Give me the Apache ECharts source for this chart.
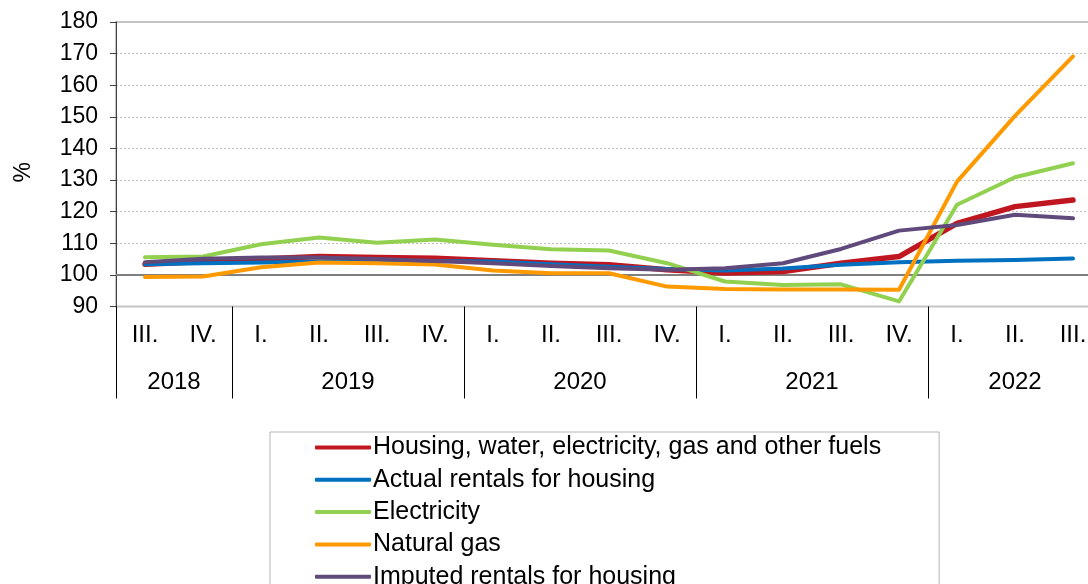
<!DOCTYPE html>
<html>
<head>
<meta charset="utf-8">
<script src="https://cdn.jsdelivr.net/npm/echarts@6/dist/echarts.min.js"></script>
<style>
  html, body { margin: 0; padding: 0; background: #fff; }
  #chart { width: 1088px; height: 584px; }
</style>
</head>
<body>
<div id="chart"></div>
<script>
// quarters along the axis, grouped by year
const years = ['2018', '2019', '2020', '2021', '2022']
const quartersPerYear = [2, 4, 4, 4, 3]
const quarters = ['III.', 'IV.',
  'I.', 'II.', 'III.', 'IV.',
  'I.', 'II.', 'III.', 'IV.',
  'I.', 'II.', 'III.', 'IV.',
  'I.', 'II.', 'III.']

const yTicks = [90, 100, 110, 120, 130, 140, 150, 160, 170, 180]

// index values, %
const housing = [103.4, 104.2, 105.0, 105.8, 105.5, 105.3, 104.5, 103.7, 103.2, 101.6, 100.6, 101.1, 103.7, 105.8, 116.3, 121.6, 123.7]
const actualRent = [103.4, 103.7, 103.9, 104.2, 104.4, 104.4, 104.2, 103.4, 102.6, 101.9, 101.4, 102.0, 103.2, 104.0, 104.5, 104.7, 105.2]
const electricity = [105.6, 105.8, 109.7, 111.8, 110.2, 111.2, 109.5, 108.1, 107.7, 103.7, 97.9, 96.8, 97.0, 91.6, 122.2, 130.9, 135.3]
const naturalGas = [99.3, 99.5, 102.4, 103.9, 103.7, 103.3, 101.4, 100.5, 100.5, 96.3, 95.5, 95.4, 95.4, 95.3, 129.5, 150.3, 169.1]
const imputedRent = [104.0, 105.1, 105.5, 105.5, 105.0, 104.4, 103.7, 102.8, 102.1, 101.6, 102.1, 103.7, 108.2, 114.0, 115.8, 119.0, 117.9]

const seriesNames = [
  'Housing, water, electricity, gas and other fuels',
  'Actual rentals for housing',
  'Electricity',
  'Natural gas',
  'Imputed rentals for housing'
]
const seriesData = [housing, actualRent, electricity, naturalGas, imputedRent]
const colors = ['#C0161F', '#0070C0', '#92D050', '#FF9900', '#604A7B']
const widths = [5.5, 4, 4, 4, 4]

// year separators and label centres on a 0..17 scale
const separators = [0]
const yearCentres = []
let pos = 0
quartersPerYear.forEach(n => {
  yearCentres.push(pos + n / 2)
  pos += n
  separators.push(pos)
})

const FONT = 'Liberation Sans, Arial, sans-serif'
const chart = echarts.init(document.getElementById('chart'), null, { renderer: 'canvas' })

chart.setOption({
  animation: false,
  grid: {
    left: 116, top: 22, width: 986, height: 284.5,
    containLabel: false,
    outerBoundsMode: 'none',
    show: true, borderColor: '#c6c6c6', borderWidth: 2
  },
  legend: {
    orient: 'vertical',
    left: 270, top: 432, height: 300,
    padding: [3, 58, 12, 45],
    borderColor: '#b5b5b5', borderWidth: 1,
    icon: 'roundRect',
    itemWidth: 56, itemHeight: 4,
    itemGap: 7.3,
    textStyle: { fontFamily: FONT, fontSize: 25, color: '#000', lineHeight: 25, padding: [0, 0, 0, -3] },
    data: seriesNames
  },
  xAxis: [{
    type: 'category',
    data: quarters,
    boundaryGap: true,
    axisLine: { show: false },
    axisTick: { show: false },
    axisLabel: { interval: 0, margin: 17, fontFamily: FONT, fontSize: 24, color: '#000' }
  }, {
    type: 'value',
    position: 'bottom',
    min: 0, max: quarters.length,
    axisLine: { show: false },
    splitLine: { show: false },
    axisTick: {
      show: true, inside: false, length: 92,
      customValues: separators,
      lineStyle: { color: '#000', width: 1 }
    },
    axisLabel: {
      margin: 64, fontFamily: FONT, fontSize: 24, color: '#000',
      customValues: yearCentres,
      formatter: v => {
        const i = yearCentres.indexOf(v)
        return i >= 0 ? years[i] : ''
      }
    }
  }],
  yAxis: {
    type: 'value',
    min: yTicks[0], max: yTicks[yTicks.length - 1], interval: 10,
    name: '%', nameLocation: 'middle', nameGap: 81, nameRotate: 90,
    nameTextStyle: { fontFamily: FONT, fontSize: 23, color: '#000', padding: [0, 16, 0, 0] },
    axisLine: { show: true, lineStyle: { color: '#404040', width: 1 } },
    axisTick: { show: true, length: 6, lineStyle: { color: '#404040' } },
    axisLabel: { margin: 18, fontFamily: FONT, fontSize: 23, color: '#000' },
    splitLine: { show: true, lineStyle: { color: '#c0c0c0', type: [2, 2], width: 1 } }
  },
  series: seriesNames.map((name, i) => ({
    name,
    type: 'line',
    data: seriesData[i],
    symbol: 'none',
    lineStyle: { color: colors[i], width: widths[i], cap: 'round', join: 'round' },
    itemStyle: { color: colors[i] },
    markLine: i === 0 ? {
      silent: true, symbol: 'none', label: { show: false },
      lineStyle: { color: '#7f7f7f', type: 'solid', width: 2 },
      data: [{ yAxis: 100 }],
      z: 1
    } : undefined,
    z: 3 + i
  }))
})
</script>
</body>
</html>
